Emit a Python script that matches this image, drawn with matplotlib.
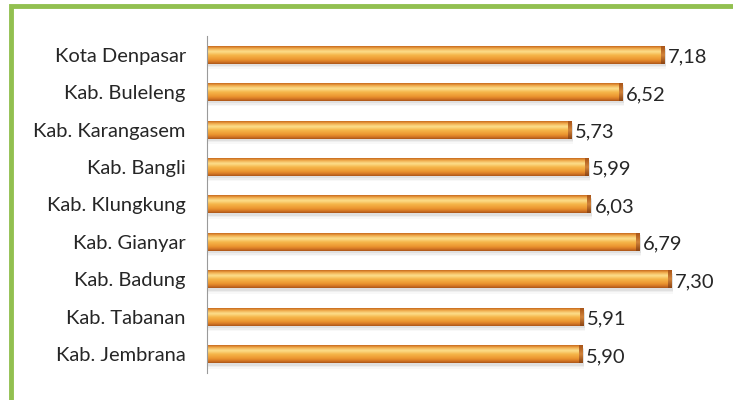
import numpy as np
import matplotlib
matplotlib.use('Agg')
import matplotlib.pyplot as plt
from matplotlib.colors import LinearSegmentedColormap
from matplotlib.patches import Rectangle

regions = ['Kota Denpasar', 'Kab. Buleleng', 'Kab. Karangasem', 'Kab. Bangli',
           'Kab. Klungkung', 'Kab. Gianyar', 'Kab. Badung', 'Kab. Tabanan',
           'Kab. Jembrana']
values = [7.18, 6.52, 5.73, 5.99, 6.03, 6.79, 7.30, 5.91, 5.90]

plt.rcParams['font.family'] = ['Lato', 'DejaVu Sans']

fig = plt.figure(figsize=(7.33, 4.0), dpi=100)
ax = fig.add_axes([0.282, 0.0675, 0.70, 0.8425])

# vertical gradient for the cylinder look (top -> bottom)
grad = LinearSegmentedColormap.from_list('bar', [
    (0.0, '#c4661c'), (0.12, '#f0a848'), (0.3, '#fde08e'),
    (0.5, '#f6b64a'), (0.75, '#ec9630'), (0.9, '#d27424'), (1.0, '#a85418')])
cap = LinearSegmentedColormap.from_list('cap', ['#a85418', '#d2843a', '#8c4412'])
g = np.linspace(0, 1, 64).reshape(-1, 1)

h = 0.48
n = len(regions)
for i, (name, v) in enumerate(zip(regions, values)):
    y = n - 1 - i
    # soft shadow
    for k, a in enumerate([0.12, 0.08, 0.05]):
        ax.add_patch(Rectangle((0, y - h / 2 - 0.06 - k * 0.04), v + 0.03, h,
                               color='#7f7f7f', alpha=a, lw=0, zorder=1))
    ax.imshow(g, cmap=grad, aspect='auto', extent=(0, v, y - h / 2, y + h / 2),
              zorder=2, interpolation='bicubic')
    ax.imshow(g, cmap=cap, aspect='auto',
              extent=(v - 0.05, v, y - h / 2, y + h / 2), zorder=3,
              interpolation='bicubic')
    ax.text(v + 0.06, y - 0.06, f'{v:.2f}'.replace('.', ','), va='center', ha='left',
            fontsize=14.5, color='#262626', zorder=4)

ax.set_xlim(0, 8.06)
ax.set_ylim(-0.5, n - 0.5)
ax.set_yticks(range(n))
ax.set_yticklabels(regions[::-1], fontsize=14.5, color='#262626')
ax.tick_params(axis='y', length=0, pad=15)
ax.set_xticks([])
for s in ['top', 'right', 'bottom']:
    ax.spines[s].set_visible(False)
ax.spines['left'].set_color('#9a9a9a')
ax.spines['left'].set_linewidth(0.8)

# green frame (runs off the right and bottom edges)
fig.patches.append(Rectangle((11 / 733, -0.05), 1.0, 1.05 - 6 / 400,
                             transform=fig.transFigure, fill=False,
                             edgecolor='#92c050', lw=3.5, zorder=0))

fig.savefig('out.png', dpi=100)
